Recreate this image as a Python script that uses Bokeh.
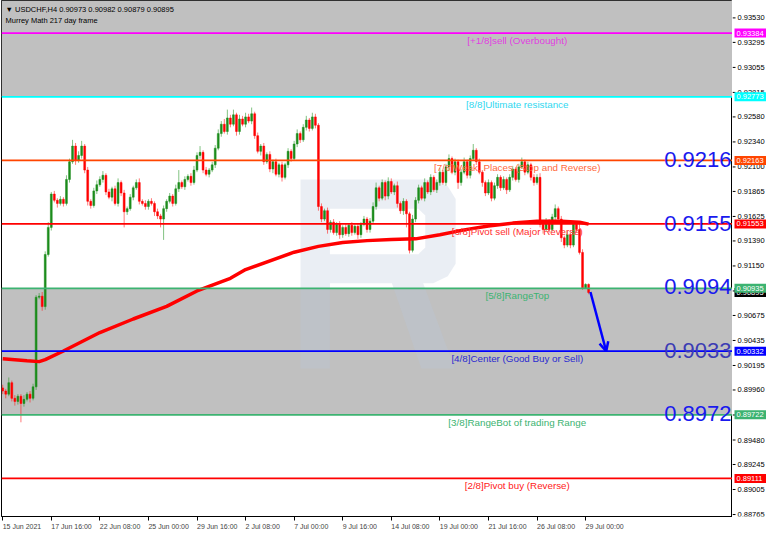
from bokeh.plotting import figure
from bokeh.layouts import row
from bokeh.models import Range1d, FixedTicker, Label, Arrow, OpenHead, BoxAnnotation, Span, ColumnDataSource
from bokeh.core.properties import value
from bokeh.embed import file_html
from bokeh.resources import INLINE

# ---------------- data ----------------
first_open = 0.8998
closes = [
    0.8995, 0.8992, 0.9003, 0.8988, 0.8985, 0.8990, 0.8983, 0.8987, 0.8992, 0.8988, 0.8999, 0.9085, 0.9086, 0.9076, 0.9126, 0.9152,
    0.9184, 0.9178, 0.9175, 0.9179, 0.9175, 0.9198, 0.9215, 0.9230, 0.9216, 0.9221, 0.9230, 0.9207, 0.9177, 0.9173, 0.9187, 0.9193,
    0.9198, 0.9202, 0.9186, 0.9181, 0.9189, 0.9175, 0.9195, 0.9185, 0.9167, 0.9170, 0.9181, 0.9190, 0.9195, 0.9177, 0.9175, 0.9172,
    0.9177, 0.9175, 0.9167, 0.9163, 0.9160, 0.9170, 0.9177, 0.9182, 0.9175, 0.9189, 0.9195, 0.9191, 0.9198, 0.9201, 0.9195, 0.9207,
    0.9221, 0.9224, 0.9207, 0.9203, 0.9207, 0.9212, 0.9228, 0.9242, 0.9251, 0.9244, 0.9257, 0.9251, 0.9260, 0.9244, 0.9256, 0.9251,
    0.9258, 0.9254, 0.9261, 0.9240, 0.9225, 0.9230, 0.9215, 0.9222, 0.9208, 0.9215, 0.9203, 0.9212, 0.9200, 0.9212, 0.9225, 0.9218,
    0.9232, 0.9242, 0.9236, 0.9248, 0.9255, 0.9247, 0.9258, 0.9250, 0.9172, 0.9160, 0.9168, 0.9150, 0.9157, 0.9147, 0.9155, 0.9145,
    0.9152, 0.9146, 0.9154, 0.9147, 0.9153, 0.9145, 0.9155, 0.9160, 0.9150, 0.9158, 0.9172, 0.9190, 0.9180, 0.9195, 0.9182, 0.9196,
    0.9186, 0.9192, 0.9175, 0.9168, 0.9177, 0.9165, 0.9130, 0.9160, 0.9178, 0.9190, 0.9180, 0.9195, 0.9186, 0.9200, 0.9188, 0.9195,
    0.9205, 0.9195, 0.9210, 0.9218, 0.9205, 0.9215, 0.9195, 0.9205, 0.9215, 0.9202, 0.9218, 0.9226, 0.9215, 0.9205, 0.9195, 0.9185,
    0.9195, 0.9180, 0.9192, 0.9200, 0.9190, 0.9198, 0.9188, 0.9200, 0.9208, 0.9198, 0.9210, 0.9215, 0.9205, 0.9212, 0.9200, 0.9195,
    0.9200, 0.9155, 0.9150, 0.9158, 0.9150, 0.9162, 0.9170, 0.9160, 0.9142, 0.9135, 0.9145, 0.9135, 0.9155, 0.9150, 0.9128, 0.9094,
    0.90973, 0.90895,
]
upper_wick_pips = [
    3, 2, 5, 2, 3, 2, 2, 4, 2, 3, 3, 2, 3, 4, 3, 5,
    2, 3, 2, 3, 2, 4, 3, 6, 3, 4, 5, 2, 3, 2, 3, 4,
    3, 4, 2, 3, 2, 3, 4, 2, 3, 2, 3, 2, 3, 4, 2, 3,
    2, 3, 2, 3, 2, 3, 2, 3, 2, 4, 12, 2, 3, 2, 3, 4,
    3, 6, 2, 3, 2, 3, 3, 4, 3, 5, 8, 3, 5, 2, 4, 3,
    4, 3, 6, 2, 3, 2, 3, 2, 3, 2, 3, 2, 3, 2, 3, 2,
    3, 4, 2, 3, 4, 2, 4, 3, 2, 3, 2, 3, 2, 3, 2, 3,
    2, 3, 2, 3, 2, 3, 2, 3, 2, 3, 4, 5, 2, 3, 2, 4,
    3, 2, 4, 2, 3, 2, 2, 4, 3, 3, 2, 4, 2, 3, 2, 3,
    4, 2, 3, 4, 2, 3, 2, 3, 4, 2, 3, 6, 2, 3, 2, 2,
    3, 2, 3, 3, 2, 3, 2, 3, 3, 2, 3, 4, 2, 3, 2, 3,
    3, 4, 2, 3, 2, 3, 4, 2, 3, 2, 3, 2, 3, 3, 8, 3,
    1, 0.9,
]
lower_wick_pips = [
    3, 4, 2, 3, 4, 3, 18, 3, 2, 4, 2, 3, 2, 4, 3, 2,
    3, 2, 4, 2, 3, 2, 3, 2, 4, 2, 3, 3, 4, 3, 2, 3,
    2, 3, 3, 2, 4, 2, 3, 3, 15, 3, 2, 3, 2, 3, 2, 3,
    3, 2, 4, 3, 8, 20, 3, 2, 3, 2, 3, 2, 3, 2, 3, 2,
    2, 3, 3, 2, 3, 2, 3, 2, 3, 2, 3, 3, 2, 4, 3, 2,
    3, 2, 3, 3, 2, 4, 3, 2, 3, 4, 2, 3, 4, 2, 3, 3,
    2, 3, 3, 2, 3, 3, 2, 3, 4, 3, 2, 4, 3, 2, 3, 4,
    3, 2, 3, 3, 2, 4, 3, 2, 3, 3, 2, 3, 3, 2, 4, 3,
    2, 3, 4, 3, 4, 13, 3, 2, 3, 3, 2, 3, 2, 3, 2, 3,
    3, 2, 3, 4, 2, 3, 6, 3, 2, 3, 3, 2, 3, 2, 4, 3,
    2, 3, 2, 3, 3, 2, 4, 2, 3, 2, 3, 2, 3, 2, 3, 3,
    2, 3, 4, 2, 3, 2, 3, 2, 4, 3, 2, 3, 2, 3, 2, 2,
    1, 1.6,
]

ma_bars = [0, 8, 12, 14, 20, 32, 43, 54, 64, 75, 80, 96, 104, 112, 120, 128, 136, 144, 152, 160, 168, 176, 184, 190, 193]
ma_values = [0.90260, 0.90241, 0.90232, 0.90251, 0.90334, 0.90511, 0.90641, 0.90762, 0.90910, 0.91031,
             0.91115, 0.91282, 0.91338, 0.91375, 0.91393, 0.91403, 0.91410, 0.91449, 0.91496, 0.91533,
             0.91561, 0.91579, 0.91579, 0.91570, 0.91551]

level_values = [0.93384, 0.92773, 0.92163, 0.91553, 0.90935, 0.90332, 0.89722, 0.89111]
level_texts = ["[+1/8]sell (Overbought)", "[8/8]Ultimate resistance", "[7/8]Weak, Places (Stop and Reverse)",
               "[6/8]Pivot sell (Major Reverse)", "[5/8]RangeTop", "[4/8]Center (Good Buy or Sell)",
               "[3/8]RangeBot of trading Range", "[2/8]Pivot buy (Reverse)"]
level_labels = ["0.93384", "0.92773", "0.92163", "0.91553", "0.90935", "0.90332", "0.89722", "0.89111"]
level_colors = ["#ff00ff", "#00ffff", "#ff4500", "#ff0000", "#3cb371", "#0000ff", "#3cb371", "#ff0000"]
level_text_colors = ["#e040e0", "#30d8f0", "#ff6a40", "#ff3030", "#3cb371", "#2a2ad0", "#3cb371", "#ff2020"]

bid_price = 0.90895
bid_label = "0.90895"
price_ticks = [0.93530, 0.93295, 0.93055, 0.92815, 0.92580, 0.92340, 0.92100, 0.91865, 0.91625, 0.91390,
               0.91150, 0.90910, 0.90675, 0.90435, 0.90195, 0.89960, 0.89720, 0.89480, 0.89245, 0.89005, 0.88765]
price_tick_labels = ["0.93530", "0.93295", "0.93055", "0.92815", "0.92580", "0.92340", "0.92100", "0.91865",
                     "0.91625", "0.91390", "0.91150", "0.90910", "0.90675", "0.90435", "0.90195", "0.89960",
                     "0.89720", "0.89480", "0.89245", "0.89005", "0.88765"]
date_ticks = [0, 16, 32, 48, 64, 80, 96, 112, 128, 144, 160, 176, 192]
date_labels = ["15 Jun 2021", "17 Jun 16:00", "22 Jun 08:00", "25 Jun 00:00", "29 Jun 16:00", "2 Jul 08:00",
               "7 Jul 00:00", "9 Jul 16:00", "14 Jul 08:00", "19 Jul 00:00", "21 Jul 16:00", "26 Jul 08:00", "29 Jul 00:00"]

big_texts = ["0.9216", "0.9155", "0.9094", "0.9033", "0.8972"]
big_values = [0.9216, 0.9155, 0.9094, 0.9033, 0.8972]
big_colors = ["#1a1aee", "#1a1aee", "#1a1aee", "#3c3cb4", "#1a1aee"]

arrow_from = (193.6, 0.9090)
arrow_to = (198.8, 0.90332)

header_lines = ["\u25bc USDCHF,H4  0.90973 0.90982 0.90879 0.90895", "Murrey Math 217 day frame"]

# faint background logo outline (bar index, price) with an inner hole
logo_outer_x = [98.1, 141.8, 146.6, 149.2, 149.2, 146.6, 141.8, 138.5, 148.9, 137.9, 128.2, 107.8, 107.8, 98.1]
logo_outer_y = [0.91979, 0.91979, 0.91914, 0.91793, 0.91170, 0.91050, 0.90985, 0.90985, 0.90167, 0.90167,
                0.90985, 0.90985, 0.90167, 0.90167]
logo_hole_x = [107.8, 136.9, 139.2, 139.2, 136.9, 107.8]
logo_hole_y = [0.91700, 0.91700, 0.91635, 0.91328, 0.91263, 0.91263]

# ---------------- derived ----------------
n = len(closes)
opens = [first_open] + closes[:-1]
highs = [max(o, c) + u * 0.0001 for o, c, u in zip(opens, closes, upper_wick_pips)]
lows = [min(o, c) - d * 0.0001 for o, c, d in zip(opens, closes, lower_wick_pips)]
xs = list(range(n))
up = [c >= o for o, c in zip(opens, closes)]

X0, X1 = -0.4, 240.4
Y0, Y1 = 0.88746, 0.93697
FONT = "Liberation Sans"
FRAME_W, FRAME_H, AXIS_W = 731, 516, 34

p = figure(frame_width=FRAME_W, frame_height=FRAME_H, output_backend="svg", toolbar_location=None,
           x_range=Range1d(X0, X1), y_range=Range1d(Y0, Y1),
           x_axis_location="below", y_axis_location=None,
           min_border_left=1, min_border_top=0, min_border_right=0, min_border_bottom=17,
           background_fill_color="white", border_fill_color="white", outline_line_color="black")
p.grid.visible = False

# shaded zones
p.add_layout(BoxAnnotation(bottom=level_values[1], fill_color="#c0c0c0", fill_alpha=1, line_alpha=0, level="underlay"))
p.add_layout(BoxAnnotation(bottom=level_values[6], top=level_values[4], fill_color="#c0c0c0", fill_alpha=1, line_alpha=0, level="underlay"))

# faint logo
p.multi_polygons(xs=[[[logo_outer_x, logo_hole_x]]], ys=[[[logo_outer_y, logo_hole_y]]],
                 fill_color="#b8c6da", fill_alpha=0.3, line_color=None)

# level lines
for v, c in zip(level_values, level_colors):
    p.add_layout(Span(location=v, dimension="width", line_color=c, line_width=1.8))

# candles
def pick(vals, flag):
    return [v for v, u in zip(vals, up) if u == flag]

src_up = ColumnDataSource(dict(x=pick(xs, True), o=pick(opens, True), c=pick(closes, True), h=pick(highs, True), l=pick(lows, True)))
src_dn = ColumnDataSource(dict(x=pick(xs, False), o=pick(opens, False), c=pick(closes, False), h=pick(highs, False), l=pick(lows, False)))
p.segment(x0="x", y0="h", x1="x", y1="l", source=src_up, line_color="#2e9a2e", line_alpha=0.6, line_width=1)
p.segment(x0="x", y0="h", x1="x", y1="l", source=src_dn, line_color="#ff2020", line_alpha=0.6, line_width=1)
p.vbar(x="x", top="c", bottom="o", width=0.62, source=src_up, fill_color="#1c8c1c", line_color="#1c8c1c", line_width=0.5)
p.vbar(x="x", top="o", bottom="c", width=0.62, source=src_dn, fill_color="#ff0000", line_color="#ff0000", line_width=0.5)

# moving average
p.line(ma_bars, ma_values, line_color="#ff0000", line_width=3.5)

# level texts
for v, t, c in zip(level_values, level_texts, level_text_colors):
    p.add_layout(Label(x=169.5, y=v, text=t, text_color=c, text_font=FONT, text_font_size="9.8px",
                       text_align="center", text_baseline="top", y_offset=-2))

# big numbers
for v, t, c in zip(big_values, big_texts, big_colors):
    p.add_layout(Label(x=X1, y=v, text=t, text_color=c, text_font=FONT, text_font_size="22px",
                       text_align="right", text_baseline="alphabetic", x_offset=-1, y_offset=1))

# arrow
p.add_layout(Arrow(end=OpenHead(line_color="#0000ff", line_width=2.5, size=9),
                   x_start=arrow_from[0], y_start=arrow_from[1], x_end=arrow_to[0], y_end=arrow_to[1],
                   line_color="#0000ff", line_width=2.5))

# header
for k, t in enumerate(header_lines):
    p.add_layout(Label(x=X0, y=Y1, text=t, text_color="#000000", text_font=FONT, text_font_size="7.5px",
                       text_align="left", text_baseline="top", x_offset=4, y_offset=-4 - 11 * k))

# time axis
xa = p.xaxis[0]
xa.ticker = FixedTicker(ticks=date_ticks)
xa.major_label_overrides = {t: s for t, s in zip(date_ticks, date_labels)}
xa.major_label_text_font = FONT
xa.major_label_text_font_size = "7px"
xa.major_label_orientation = -0.0001
xa.major_tick_out = 4
xa.major_tick_in = 0
xa.minor_tick_line_color = None
xa.major_label_standoff = 6
xa.axis_line_color = "black"

# price scale panel (shares the price range)
ps = figure(frame_width=AXIS_W, frame_height=FRAME_H, output_backend="svg", toolbar_location=None,
            x_range=Range1d(0, AXIS_W), y_range=p.y_range, x_axis_location=None, y_axis_location=None,
            min_border_left=0, min_border_top=0, min_border_right=0, min_border_bottom=17,
            background_fill_color="white", border_fill_color="white", outline_line_color=None)
ps.grid.visible = False
ps.segment(x0=0, x1=3, y0=price_ticks, y1=price_ticks, line_color="black", line_width=1)
ps.text(x=5, y=price_ticks, text=price_tick_labels, text_font=value(FONT), text_font_size="7.5px",
        text_baseline="middle", text_color="black")
ps.rect(x=[18.5], y=[bid_price], width=33, height=9, height_units="screen", fill_color="#000000", line_color=None)
ps.text(x=[4], y=[bid_price], text=[bid_label], text_font=value(FONT), text_font_size="7.5px",
        text_baseline="middle", text_color="white")
ps.rect(x=[18.5] * len(level_values), y=level_values, width=33, height=9, height_units="screen",
        fill_color=level_colors, line_color=None)
ps.text(x=[4] * len(level_values), y=level_values, text=level_labels, text_font=value(FONT), text_font_size="7.5px",
        text_baseline="middle", text_color="white")

layout = row(p, ps, spacing=0)
open("out.html", "w").write(file_html(layout, INLINE))
